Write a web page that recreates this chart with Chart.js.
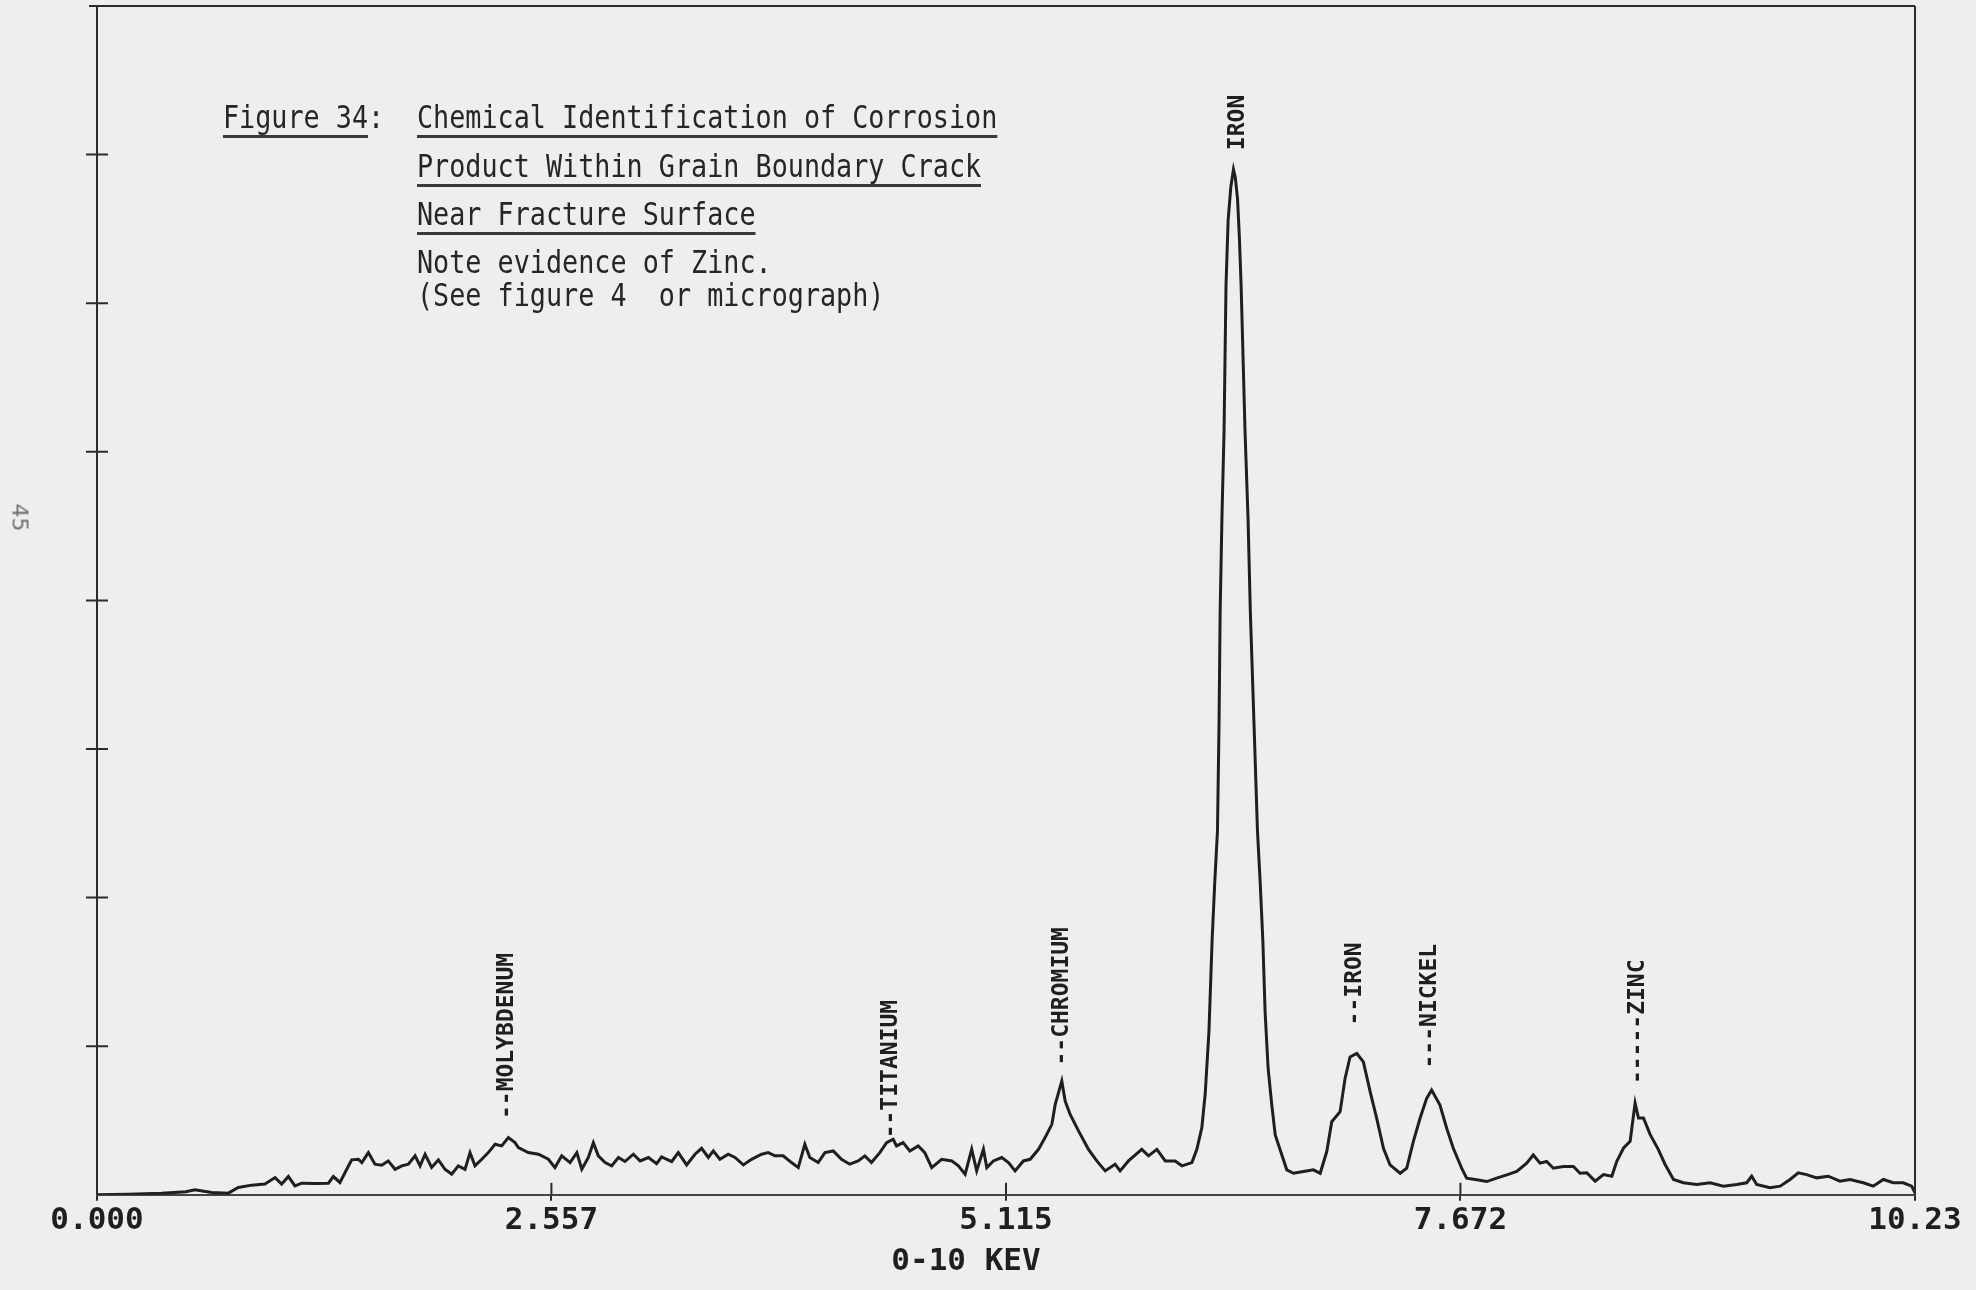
<!DOCTYPE html>
<html>
<head>
<meta charset="utf-8">
<script src="https://cdn.jsdelivr.net/npm/chart.js@4.4.1/dist/chart.umd.min.js"></script>
<style>
  html, body { margin: 0; padding: 0; background: #eeeeec; }
  #wrap { position: relative; width: 1976px; height: 1290px; overflow: hidden; }
  canvas { position: absolute; left: 0; top: 0; }
  .cap { position: absolute; font-family: "DejaVu Sans Mono", monospace; font-size: 31.5px; line-height: 31.5px;
         color: #262626; white-space: pre; transform: scaleX(0.85); transform-origin: 0 0; }
  .ul { text-decoration: underline; text-decoration-thickness: 3px; text-underline-offset: 7px; text-decoration-color: #3a3a3a; }
  #pageno { position: absolute; left: 6px; top: 505px; font-family: "DejaVu Sans", sans-serif; font-size: 22px;
            color: #6e6e6e; transform: rotate(90deg); transform-origin: 50% 50%; }
</style>
</head>
<body>
<div id="wrap">
  <canvas id="c" width="1976" height="1290"></canvas>
  <div class="cap" style="left:223px; top:102px;"><span class="ul">Figure 34</span>:</div>
  <div class="cap ul" style="left:417px; top:102px;">Chemical Identification of Corrosion</div>
  <div class="cap ul" style="left:417px; top:151px;">Product Within Grain Boundary Crack</div>
  <div class="cap ul" style="left:417px; top:199px;">Near Fracture Surface</div>
  <div class="cap" style="left:417px; top:247px;">Note evidence of Zinc.</div>
  <div class="cap" style="left:417px; top:280px;">(See figure 4  or micrograph)</div>
  <div id="pageno">45</div>
</div>
<script>
// ---- data ----
const energyKeV = [
  0, 0.176, 0.364, 0.50, 0.551, 0.645, 0.739, 0.795, 0.87, 0.945,
  1.002, 1.039, 1.077, 1.114, 1.152, 1.227, 1.302, 1.33, 1.367, 1.396,
  1.433, 1.471, 1.49, 1.527, 1.564, 1.602, 1.639, 1.677, 1.715, 1.752,
  1.79, 1.818, 1.846, 1.883, 1.921, 1.958, 1.996, 2.033, 2.071, 2.099,
  2.127, 2.165, 2.202, 2.24, 2.277, 2.315, 2.352,
  2.371, 2.427, 2.484, 2.54, 2.577, 2.615, 2.662, 2.7, 2.728, 2.765,
  2.793, 2.821, 2.859, 2.896, 2.934, 2.971, 3.018, 3.056, 3.103, 3.149,
  3.177, 3.234, 3.271, 3.318, 3.365, 3.402, 3.44, 3.468, 3.505, 3.552,
  3.59, 3.637, 3.683, 3.74, 3.777, 3.815, 3.861, 3.908, 3.946, 3.983,
  4.011, 4.058, 4.096, 4.143, 4.189, 4.236, 4.283, 4.321, 4.358, 4.405,
  4.443, 4.48, 4.499, 4.536, 4.574, 4.621, 4.658,
  4.697, 4.753, 4.81, 4.847, 4.885, 4.922, 4.95, 4.988, 5.007, 5.044,
  5.091, 5.129, 5.166, 5.213, 5.251, 5.298, 5.335, 5.373, 5.392, 5.429,
  5.448, 5.476, 5.523, 5.579, 5.626, 5.673, 5.729, 5.757, 5.804, 5.879,
  5.917, 5.964, 6.011, 6.067, 6.105, 6.161, 6.189, 6.217,
  6.236, 6.257, 6.275, 6.29, 6.305, 6.314, 6.32, 6.33, 6.342, 6.353,
  6.365, 6.38, 6.395, 6.405, 6.418, 6.428, 6.438, 6.46, 6.477, 6.49,
  6.51, 6.53, 6.545, 6.56, 6.573, 6.59, 6.611, 6.63, 6.658,
  6.695, 6.733, 6.789, 6.845, 6.883, 6.92, 6.948, 6.995, 7.023, 7.051,
  7.089, 7.126, 7.164, 7.201, 7.239, 7.276, 7.333, 7.37, 7.407, 7.445,
  7.482, 7.51, 7.557, 7.595, 7.632, 7.679, 7.707, 7.764, 7.82, 7.876,
  7.933, 7.989, 8.045, 8.082, 8.12, 8.157, 8.195, 8.251, 8.308, 8.345,
  8.383, 8.43, 8.477, 8.524, 8.552, 8.59, 8.627, 8.655, 8.674, 8.702,
  8.74, 8.786, 8.824, 8.871, 8.927, 9.002, 9.077, 9.152, 9.227, 9.283,
  9.311, 9.339, 9.414, 9.471, 9.527, 9.573, 9.62, 9.677, 9.742, 9.808,
  9.864, 9.939, 9.995, 10.052, 10.108, 10.164, 10.211, 10.23
];
const counts = [
  0, 0.004, 0.011, 0.02, 0.034, 0.016, 0.011, 0.049, 0.065, 0.072,
  0.116, 0.072, 0.123, 0.06, 0.078, 0.076, 0.078, 0.123, 0.083, 0.150,
  0.235, 0.239, 0.217, 0.284, 0.206, 0.199, 0.228, 0.172, 0.195, 0.206,
  0.262, 0.195, 0.273, 0.184, 0.235, 0.172, 0.139, 0.195, 0.172, 0.284,
  0.195, 0.239, 0.284, 0.340, 0.329, 0.385, 0.351,
  0.318, 0.284, 0.273, 0.239, 0.183, 0.262, 0.217, 0.284, 0.172, 0.251,
  0.351, 0.262, 0.217, 0.195, 0.251, 0.224, 0.273, 0.228, 0.251, 0.210,
  0.255, 0.224, 0.284, 0.201, 0.273, 0.313, 0.251, 0.295, 0.239, 0.273,
  0.251, 0.201, 0.239, 0.273, 0.284, 0.262, 0.262, 0.217, 0.183, 0.340,
  0.251, 0.217, 0.284, 0.295, 0.239, 0.206, 0.228, 0.262, 0.217, 0.284,
  0.351, 0.374, 0.329, 0.351, 0.295, 0.329, 0.284,
  0.183, 0.239, 0.228, 0.195, 0.139, 0.306, 0.161, 0.306, 0.183, 0.228,
  0.251, 0.217, 0.161, 0.228, 0.239, 0.306, 0.385, 0.474, 0.608, 0.765,
  0.631, 0.541, 0.430, 0.306, 0.228, 0.161, 0.206, 0.161, 0.228, 0.306,
  0.262, 0.306, 0.228, 0.228, 0.195, 0.217, 0.306, 0.452,
  0.68, 1.1, 1.72, 2.11, 2.45, 3.19, 3.92, 4.55, 5.14, 6.12,
  6.56, 6.78, 6.9, 6.85, 6.7, 6.45, 6.12, 5.14, 4.55, 3.92,
  3.19, 2.45, 2.11, 1.72, 1.23, 0.85, 0.6, 0.403, 0.302,
  0.168, 0.145, 0.157, 0.168, 0.145, 0.291, 0.492, 0.559, 0.783, 0.928,
  0.951, 0.895, 0.694, 0.515, 0.313, 0.201, 0.145, 0.179, 0.358, 0.515,
  0.649, 0.705, 0.604, 0.447, 0.313, 0.179, 0.112, 0.101, 0.089, 0.112,
  0.134, 0.157, 0.213, 0.268, 0.213, 0.224, 0.179, 0.190, 0.190, 0.145,
  0.148, 0.092, 0.136, 0.125, 0.226, 0.315, 0.360, 0.617, 0.517, 0.517,
  0.405, 0.304, 0.204, 0.103, 0.081, 0.069, 0.081, 0.058, 0.069, 0.081,
  0.125, 0.069, 0.047, 0.058, 0.103, 0.148, 0.136, 0.114, 0.125, 0.092,
  0.103, 0.081, 0.058, 0.103, 0.081, 0.081, 0.058, 0.013
];
const xTickValues = [0, 2.557, 5.115, 7.672, 10.23];
const xTickLabels = ["0.000", "2.557", "5.115", "7.672", "10.23"];
const yTickValues = [1, 2, 3, 4, 5, 6, 7];
const xAxisTitle = "0-10 KEV";
const peakLabels = ["--MOLYBDENUM", "--TITANIUM", "--CHROMIUM", "IRON", "--IRON", "---NICKEL", "-----ZINC"];
const peakLabelKeV = [2.31, 4.47, 5.43, 6.42, 7.08, 7.50, 8.67];
const peakLabelBase = [0.51, 0.38, 0.87, 7.03, 1.14, 0.85, 0.745];

const INK = '#1f1f1f';

const framePlugin = {
  id: 'frame',
  afterDraw(chart) {
    const ctx = chart.ctx, a = chart.chartArea;
    const xs = chart.scales.x, ys = chart.scales.y;
    ctx.save();
    ctx.strokeStyle = '#2c2c2c';
    ctx.lineWidth = 2;
    ctx.beginPath();
    ctx.moveTo(a.left - 8, a.top); ctx.lineTo(a.right, a.top);
    ctx.moveTo(a.right, a.top); ctx.lineTo(a.right, a.bottom);
    ctx.moveTo(a.left, a.top); ctx.lineTo(a.left, a.bottom);
    ctx.stroke();
    // cross ticks on the left axis
    ctx.beginPath();
    yTickValues.forEach(v => {
      const py = ys.getPixelForValue(v);
      ctx.moveTo(a.left - 11, py); ctx.lineTo(a.left + 11, py);
    });
    // inward ticks on the bottom axis
    xTickValues.forEach(v => {
      const px = xs.getPixelForValue(v);
      ctx.moveTo(px, a.bottom); ctx.lineTo(px, a.bottom - 12);
    });
    ctx.stroke();
    // peak labels (rotated)
    ctx.fillStyle = INK;
    ctx.font = 'bold 23px "DejaVu Sans Mono"';
    ctx.textAlign = 'left';
    ctx.textBaseline = 'middle';
    peakLabels.forEach((t, i) => {
      const px = xs.getPixelForValue(peakLabelKeV[i]);
      const py = ys.getPixelForValue(peakLabelBase[i]);
      ctx.save();
      ctx.translate(px, py);
      ctx.rotate(-Math.PI / 2);
      ctx.fillText(t, 0, 0);
      ctx.restore();
    });
    // axis title
    ctx.font = 'bold 31px "DejaVu Sans Mono"';
    ctx.textAlign = 'center';
    ctx.textBaseline = 'middle';
    ctx.fillText(xAxisTitle, a.left + (a.right - a.left) * 0.478, a.bottom + 67);
    ctx.restore();
  }
};

new Chart(document.getElementById('c'), {
  type: 'line',
  data: {
    datasets: [{
      data: energyKeV.map((x, i) => ({ x: x, y: counts[i] })),
      borderColor: INK,
      borderWidth: 3,
      pointRadius: 0,
      tension: 0,
      fill: false
    }]
  },
  options: {
    responsive: false,
    animation: false,
    devicePixelRatio: 1,
    layout: { padding: { left: 97, top: 6, right: 61, bottom: 48 } },
    plugins: { legend: { display: false }, tooltip: { enabled: false }, title: { display: false } },
    scales: {
      x: {
        type: 'linear', min: 0, max: 10.23,
        afterBuildTicks: s => { s.ticks = xTickValues.map(v => ({ value: v })); },
        ticks: {
          callback: (v, i) => xTickLabels[i],
          font: { family: 'DejaVu Sans Mono', size: 31, weight: 'bold' },
          color: INK, padding: 2, maxRotation: 0, autoSkip: false
        },
        grid: { drawOnChartArea: false, drawTicks: true, tickLength: 6, color: '#2c2c2c', lineWidth: 2 },
        border: { display: true, color: '#444444', width: 2, dash: [22, 5] }
      },
      y: { type: 'linear', min: 0, max: 8, display: false }
    }
  },
  plugins: [framePlugin]
});
</script>
</body>
</html>
